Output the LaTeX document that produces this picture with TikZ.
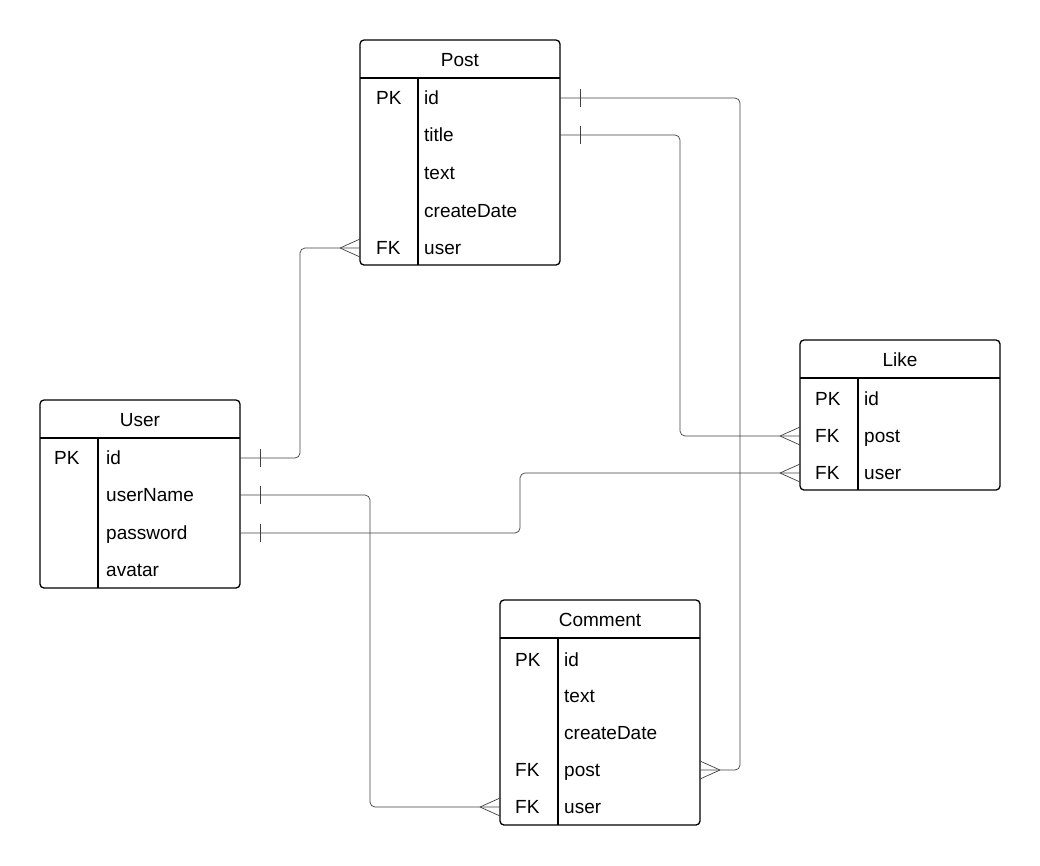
\documentclass[tikz,border=0pt]{standalone}
\usepackage{fontspec}
\setmainfont{Liberation Sans}
\usetikzlibrary{positioning}
\usetikzlibrary{calc}
\tikzset{
  tbl/.style={draw, line width=1.3pt, rounded corners=4pt},
  fld/.style={anchor=west, inner sep=0pt, text height=15pt, text depth=2pt, font=\fontsize{19}{21}\selectfont},
  ttl/.style={inner sep=0pt, text height=15pt, text depth=2pt, font=\fontsize{19}{21}\selectfont},
  rel/.style={draw=black!75, line width=0.7pt, rounded corners=5pt}
}
% one: bar across the line; many: crow foot opening towards the table
\newcommand{\onebar}[2]{\draw[black!75, line width=0.7pt] ($(#1)+(#2,-9)$) -- ($(#1)+(#2,9)$);}
\newcommand{\crowft}[2]{\draw[black!75, line width=0.7pt] ($(#1)+(#2,0)$) -- ($(#1)+(0,-9)$) ($(#1)+(#2,0)$) -- ($(#1)+(0,9)$);}
\begin{document}
\begin{tikzpicture}[x=1pt,y=-1pt]
\useasboundingbox (0,0) rectangle (1040,865);
% Post
\draw[tbl] (360,40) rectangle (560,265);
\draw[line width=1.3pt] (360,78) -- (560,78) (418,78) -- (418,265);
\node[ttl] (post) at (460,60) {Post};
\node[fld] (post-pk) at (376,98) {PK}; \node[fld] (post-id) at (424,98) {id};
\node[fld] (post-title) at (424,135) {title};
\node[fld] (post-text) at (424,173) {text};
\node[fld] (post-date) at (424,211) {createDate};
\node[fld] (post-fk) at (376,248) {FK}; \node[fld] (post-user) at (424,248) {user};
% User
\draw[tbl] (40,400) rectangle (240,588);
\draw[line width=1.3pt] (40,438) -- (240,438) (98,438) -- (98,588);
\node[ttl] (user) at (140,420) {User};
\node[fld] (user-pk) at (54,458) {PK}; \node[fld] (user-id) at (106,458) {id};
\node[fld] (user-name) at (106,495) {userName};
\node[fld] (user-pw) at (106,533) {password};
\node[fld] (user-avatar) at (106,570) {avatar};
% Like
\draw[tbl] (800,340) rectangle (1000,490);
\draw[line width=1.3pt] (800,378) -- (1000,378) (858,378) -- (858,490);
\node[ttl] (like) at (900,360) {Like};
\node[fld] (like-pk) at (815,399) {PK}; \node[fld] (like-id) at (864,399) {id};
\node[fld] (like-fk1) at (815,436) {FK}; \node[fld] (like-post) at (864,436) {post};
\node[fld] (like-fk2) at (815,473) {FK}; \node[fld] (like-user) at (864,473) {user};
% Comment
\draw[tbl] (500,600) rectangle (700,825);
\draw[line width=1.3pt] (500,638) -- (700,638) (558,638) -- (558,825);
\node[ttl] (comment) at (600,620) {Comment};
\node[fld] (com-pk) at (515,660) {PK}; \node[fld] (com-id) at (564,660) {id};
\node[fld] (com-text) at (564,696) {text};
\node[fld] (com-date) at (564,733) {createDate};
\node[fld] (com-fk1) at (515,770) {FK}; \node[fld] (com-post) at (564,770) {post};
\node[fld] (com-fk2) at (515,807) {FK}; \node[fld] (com-user) at (564,807) {user};
% connector ends
\coordinate (u-id) at (240,458); \coordinate (u-name) at (240,495); \coordinate (u-pw) at (240,533);
\coordinate (p-id) at (560,98); \coordinate (p-title) at (560,135); \coordinate (p-user) at (360,248);
\coordinate (l-post) at (800,436); \coordinate (l-user) at (800,473);
\coordinate (c-post) at (700,770); \coordinate (c-user) at (500,807);
% relations
\draw[rel] (u-id) -| (300,248) -- (p-user);
\draw[rel] (p-id) -| (740,770) -- (c-post);
\draw[rel] (p-title) -| (680,436) -- (l-post);
\draw[rel] (u-pw) -| (520,473) -- (l-user);
\draw[rel] (u-name) -| (370,807) -- (c-user);
\onebar{u-id}{20} \onebar{u-name}{20} \onebar{u-pw}{20}
\onebar{p-id}{20} \onebar{p-title}{20}
\crowft{p-user}{-20} \crowft{l-post}{-20} \crowft{l-user}{-20}
\crowft{c-post}{20} \crowft{c-user}{-20}
\end{tikzpicture}
\end{document}
